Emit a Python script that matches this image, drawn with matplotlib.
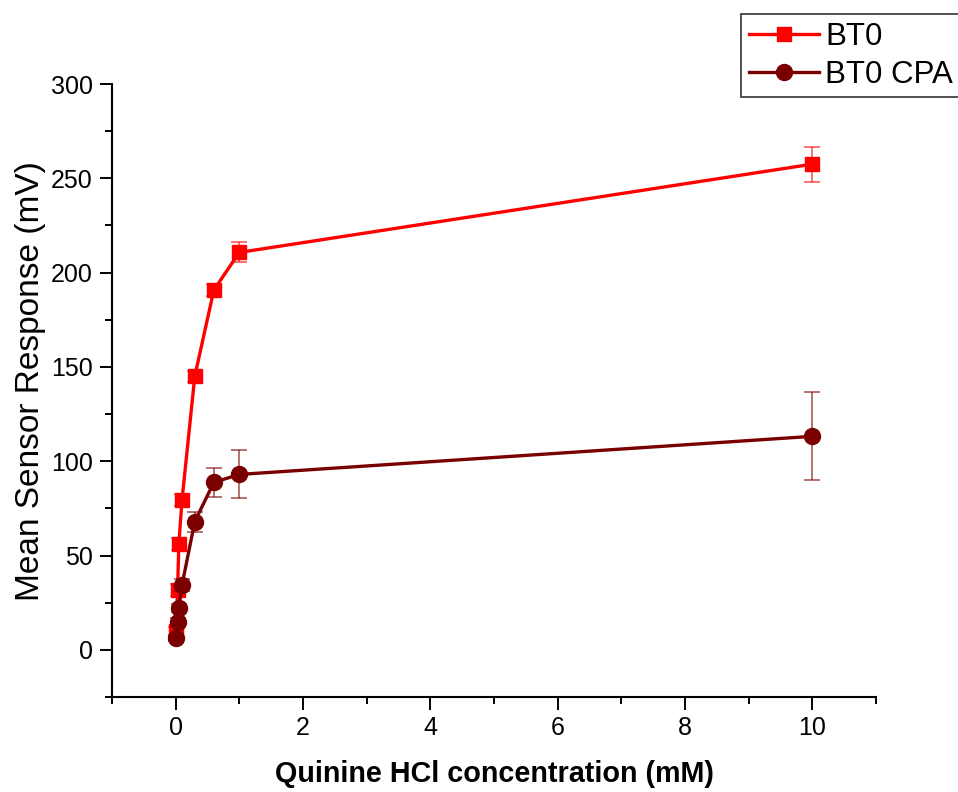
import matplotlib
matplotlib.use("Agg")
import matplotlib.pyplot as plt
from matplotlib.ticker import MultipleLocator

plt.rcParams['font.family'] = ['Liberation Sans', 'DejaVu Sans']

# Quinine HCl concentration (mM)
conc = [0.01, 0.03, 0.05, 0.1, 0.3, 0.6, 1, 10]

# Mean sensor response (mV) and standard deviations
bt0 = [10.1, 31.8, 56.2, 79.5, 145.0, 190.8, 210.7, 257.5]
bt0_err = [2.0, 3.0, 3.0, 3.0, 3.0, 3.0, 5.3, 9.3]

bt0_cpa = [6.4, 14.8, 22.3, 34.4, 68.0, 88.8, 93.0, 113.2]
bt0_cpa_err = [1.5, 2.0, 2.0, 3.0, 5.3, 7.7, 12.7, 23.3]

labels = ["BT0", "BT0 CPA"]
colors = ["#FF0000", "#7A0000"]

fig = plt.figure(figsize=(9.58, 7.92), dpi=100)
ax = fig.add_axes([112 / 958, 1 - 697 / 792, (876 - 112) / 958, (697 - 84) / 792])

ax.errorbar(conc, bt0, yerr=bt0_err, fmt='none', ecolor=colors[0], alpha=0.65,
            elinewidth=1.2, capsize=6, capthick=1.2, zorder=2)
l1, = ax.plot(conc, bt0, color=colors[0], lw=2.4, marker='s', ms=10,
              mec=colors[0], mfc=colors[0], label=labels[0], zorder=3)

ax.errorbar(conc, bt0_cpa, yerr=bt0_cpa_err, fmt='none', ecolor=colors[1], alpha=0.65,
            elinewidth=1.2, capsize=6, capthick=1.2, zorder=4)
l2, = ax.plot(conc, bt0_cpa, color=colors[1], lw=2.4, marker='o', ms=11.5,
              mec=colors[1], mfc=colors[1], label=labels[1], zorder=5)

ax.set_xlim(-1, 11)
ax.set_ylim(-25, 300)
ax.xaxis.set_major_locator(MultipleLocator(2))
ax.xaxis.set_minor_locator(MultipleLocator(1))
ax.yaxis.set_major_locator(MultipleLocator(50))
ax.yaxis.set_minor_locator(MultipleLocator(25))

for side in ['top', 'right']:
    ax.spines[side].set_visible(False)
for side in ['left', 'bottom']:
    ax.spines[side].set_linewidth(1.5)

ax.tick_params(which='major', direction='out', length=9, width=1.4, labelsize=18, pad=5)
ax.tick_params(which='minor', direction='out', length=5, width=1.4)

ax.set_ylabel("Mean Sensor Response (mV)", fontsize=24)
ax.yaxis.set_label_coords(-0.086, 0.515)
ax.set_xlabel("Quinine HCl concentration (mM)", fontsize=20.7, fontweight='bold', labelpad=14)

leg = fig.legend(handles=[l1, l2], labels=labels, loc='upper left',
                 bbox_to_anchor=(741 / 958, 1 - 14 / 792), fontsize=22.5,
                 frameon=True, fancybox=False, framealpha=1, edgecolor='#333333',
                 handlelength=2.25, handletextpad=0.2, labelspacing=0.25,
                 borderpad=0.25, borderaxespad=0)
leg.get_frame().set_linewidth(1.2)

fig.savefig("out.png", dpi=100)
